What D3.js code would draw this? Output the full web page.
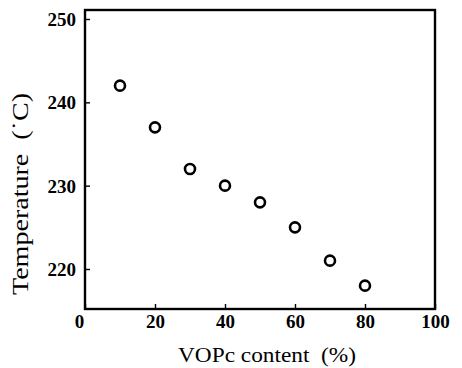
<!DOCTYPE html>
<html>
<head>
<meta charset="utf-8">
<script src="https://cdn.jsdelivr.net/npm/d3@7"></script>
<style>
  html, body { margin: 0; padding: 0; background: #fff; }
  svg { display: block; }
  svg text { font-family: 'Liberation Serif', 'Times New Roman', serif !important; fill: #000; }
</style>
</head>
<body>
<script>
const vopcContent = [10, 20, 30, 40, 50, 60, 70, 80];
const temperature = [242, 237, 232, 230, 228, 225, 221, 218];
const xTicks = [0, 20, 40, 60, 80, 100];
const yTicks = [220, 230, 240, 250];
const xTitle = "VOPc content\u2002(%)";
const yTitle = "Temperature\u2002(\u02D9C)";

(function () {
const W = 462, H = 368;
const mLeft = 85, mRight = 435, mTop = 10, mBottom = 309;
const serif = "'Liberation Serif', serif";

const svg = d3.select("body").append("svg").attr("width", W).attr("height", H);

const x = d3.scaleLinear().domain([0, 100]).range([mLeft, mRight]);
const y = d3.scaleLinear().domain([215.2, 251.08]).range([mBottom, mTop]);

// frame
svg.append("rect")
  .attr("x", mLeft).attr("y", mTop)
  .attr("width", mRight - mLeft).attr("height", mBottom - mTop)
  .attr("fill", "none").attr("stroke", "#000").attr("stroke-width", 2.4);

// x axis
const xAxis = svg.append("g").attr("transform", `translate(0,${mBottom})`)
  .call(d3.axisBottom(x).tickValues(xTicks).tickSize(-5).tickPadding(0).tickFormat(d3.format("d")));
xAxis.attr("font-family", serif).attr("font-size", 19);
xAxis.select(".domain").remove();
xAxis.selectAll(".tick line").attr("stroke", "#000").attr("stroke-width", 1.4);
xAxis.selectAll(".tick text")
  .attr("font-family", serif).attr("font-size", 19).attr("font-weight", "bold")
  .attr("dy", null).attr("y", 19)
  .attr("dx", d => d === 0 ? -6 : 0);

// y axis
const yAxis = svg.append("g").attr("transform", `translate(${mLeft},0)`)
  .call(d3.axisLeft(y).tickValues(yTicks).tickSize(-5).tickPadding(9).tickFormat(d3.format("d")));
yAxis.attr("font-family", serif).attr("font-size", 19);
yAxis.select(".domain").remove();
yAxis.selectAll(".tick line").attr("stroke", "#000").attr("stroke-width", 1.4);
yAxis.selectAll(".tick text")
  .attr("font-family", serif).attr("font-size", 19).attr("font-weight", "bold")
  .attr("dy", "0.34em");

// points
svg.append("g").selectAll("circle")
  .data(vopcContent.map((v, i) => [v, temperature[i]]))
  .join("circle")
  .attr("cx", d => x(d[0])).attr("cy", d => y(d[1]))
  .attr("r", 5)
  .attr("fill", "none").attr("stroke", "#000").attr("stroke-width", 2.6);

// titles
svg.append("text")
  .attr("x", 267).attr("y", 362)
  .attr("text-anchor", "middle")
  .attr("font-family", serif)
  .attr("font-size", 22)
  .attr("textLength", 178).attr("lengthAdjust", "spacingAndGlyphs")
  .text(xTitle);

svg.append("text")
  .attr("transform", "translate(28,194) rotate(-90)")
  .attr("text-anchor", "middle")
  .attr("font-family", serif)
  .attr("font-size", 23)
  .attr("textLength", 202).attr("lengthAdjust", "spacingAndGlyphs")
  .text(yTitle);
})();
</script>
</body>
</html>
